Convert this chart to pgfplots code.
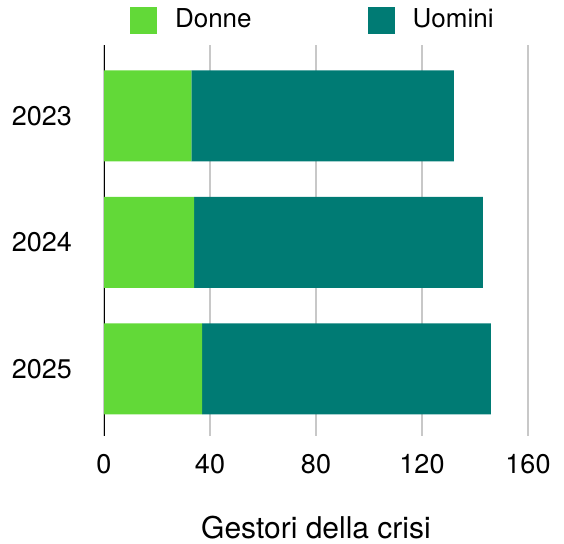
\documentclass[border=0pt]{standalone}
\usepackage{fontspec}
\setmainfont{TeX Gyre Heros}
\usepackage{pgfplots}
\pgfplotsset{compat=1.18}
\definecolor{donne}{HTML}{62D938}
\definecolor{uomini}{HTML}{007B74}
\definecolor{gridgray}{HTML}{C8C8C8}
\begin{document}
\fontsize{26bp}{31bp}\selectfont
\begin{tikzpicture}
\path[use as bounding box] (0,0) rectangle (564bp,544bp);
\begin{axis}[
  at={(104bp,108bp)}, anchor=south west,
  scale only axis, width=424bp, height=391bp,
  xbar stacked, bar width=91bp,
  xmin=0, xmax=160, ymin=-0.56, ymax=2.53,
  y dir=reverse,
  xtick={0,40,80,120,160},
  ytick={0,1,2}, yticklabels={2023,2024,2025},
  axis line style={draw=none},
  major tick length=0pt,
  xmajorgrids, ymajorgrids=false,
  grid style={gridgray, line width=1.2bp},
  /pgf/number format/assume math mode=true,
  tick label style={font=\fontsize{27bp}{32bp}\selectfont, inner sep=0pt},
  xticklabel style={anchor=north, yshift=-18bp},
  yticklabel style={anchor=east, xshift=-32bp},
  xlabel={Gestori della crisi},
  xlabel style={font=\fontsize{30bp}{36bp}\selectfont, inner sep=0pt, anchor=base, at={(axis description cs:0.5,0)}, yshift=-102bp},
  legend columns=2,
  legend style={draw=none, fill=none, at={(axis description cs:0.061,1)}, anchor=south west, yshift=11bp,
    font=\fontsize{26bp}{31bp}\selectfont, inner sep=0pt,
    /tikz/every even column/.append style={column sep=116bp},
    /tikz/every odd column/.append style={column sep=18bp},
    nodes={inner sep=0pt}},
  legend image code/.code={\path[#1,draw=none] (0bp,-13.5bp) rectangle (27bp,13.5bp);},
]
\addplot[fill=donne, draw=none] coordinates {(33,0) (34,1) (37,2)};
\addplot[fill=uomini, draw=none] coordinates {(99,0) (109,1) (109,2)};
\legend{Donne,Uomini}
\draw[black, line width=2.2bp] (axis description cs:0,0) -- (axis description cs:0,1);
\end{axis}
\end{tikzpicture}
\end{document}
